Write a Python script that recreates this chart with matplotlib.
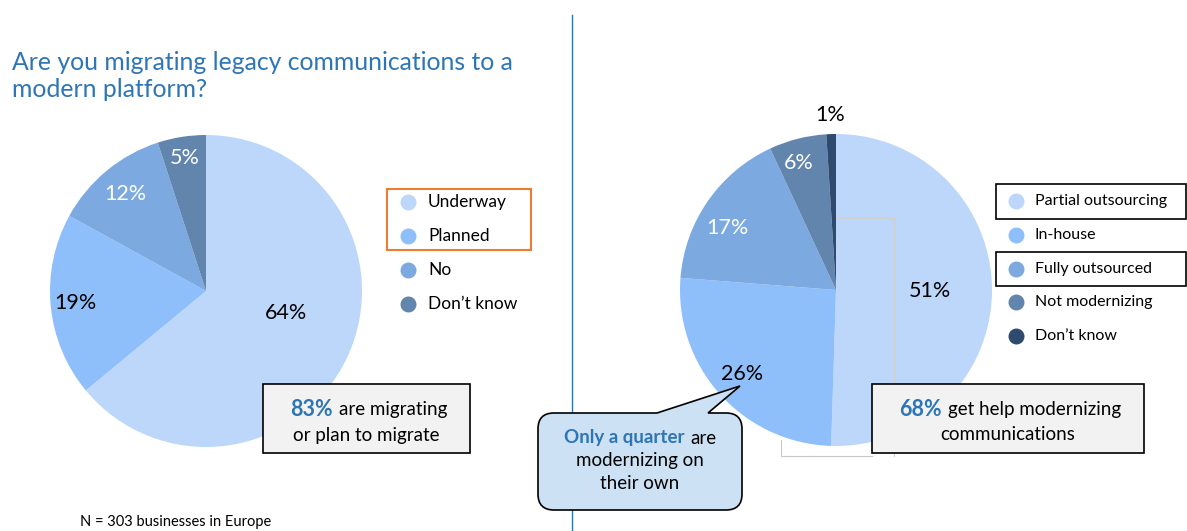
import numpy as np
import matplotlib.pyplot as plt
from matplotlib.path import Path
from matplotlib.patches import PathPatch, Rectangle

plt.rcParams['font.family'] = ['Lato', 'DejaVu Sans']

# ---------- Data ----------
mig_labels = ["Underway", "Planned", "No", "Don\u2019t know"]
mig_values = [64, 19, 12, 5]
mig_colors = ["#BCD7FA", "#8EBFFA", "#7BA9E0", "#6285AE"]

mod_labels = ["Partial outsourcing", "In-house", "Fully outsourced",
              "Not modernizing", "Don\u2019t know"]
mod_values = [51, 26, 17, 6, 1]
mod_colors = ["#BCD7FA", "#8EBFFA", "#7BA9E0", "#6285AE", "#2E4A6E"]

BLUE = "#2E75B6"
W, H = 1187, 531


def Y(y):
    # image rows -> axes coords (y up)
    return H - y


fig = plt.figure(figsize=(W / 100, H / 100), dpi=100)
ax = fig.add_axes([0, 0, 1, 1])


def draw_pie(values, colors, center, radius, fracs, nudges, txt_colors):
    wedges, _ = ax.pie(values, colors=colors, startangle=90, counterclock=False,
                       center=center, radius=radius, frame=True,
                       wedgeprops=dict(linewidth=0))
    for w, v, f, n, c in zip(wedges, values, fracs, nudges, txt_colors):
        ang = np.deg2rad((w.theta1 + w.theta2) / 2 + n)
        ax.text(center[0] + f * radius * np.cos(ang),
                center[1] + f * radius * np.sin(ang),
                f"{v}%", ha="center", va="center", fontsize=15.5, color=c)


draw_pie(mig_values, mig_colors, (206, Y(291)), 156,
         [0.53, 0.84, 0.81, 0.86], [9.6, 0, 0, 0],
         ["black", "black", "white", "white"])
draw_pie(mod_values, mod_colors, (836, Y(290)), 156,
         [0.6, 0.81, 0.8, 0.85, 1.12], [0, 0, 5, 2, 0],
         ["black", "black", "white", "white", "black"])

# faint leftover frame on the right pie
ax.plot([836, 894, 894], [Y(218), Y(218), Y(456)], color="#D0D0D0", lw=0.8, zorder=3)
ax.plot([781, 781, 872], [Y(440), Y(456), Y(456)], color="#C8C8C8", lw=0.8, zorder=3)

# ---------- Title & divider ----------
ax.text(12, Y(76), "Are you migrating legacy communications to a\nmodern platform?",
        ha="left", va="center", fontsize=17.8, color=BLUE, linespacing=1.25)
ax.plot([572, 572], [Y(15), Y(531)], color=BLUE, lw=1)

# ---------- Legends ----------
for i, (lab, col) in enumerate(zip(mig_labels, mig_colors)):
    yy = Y(202 + i * 34)
    ax.scatter([408], [yy], s=110, color=col, zorder=5)
    ax.text(428, yy, lab, ha="left", va="center", fontsize=12.5)
ax.add_patch(Rectangle((387, Y(250)), 144, 61, fill=False,
                       edgecolor="#ED7D31", lw=1.5, zorder=4))

for i, (lab, col) in enumerate(zip(mod_labels, mod_colors)):
    yy = Y(201 + i * 33.8)
    ax.scatter([1016], [yy], s=110, color=col, zorder=5)
    ax.text(1035, yy, lab, ha="left", va="center", fontsize=11.5)
for top, bot in [(184, 219), (252, 286)]:
    ax.add_patch(Rectangle((996, Y(bot)), 190, bot - top, fill=False,
                           edgecolor="black", lw=1.2, zorder=4))

# ---------- Callout boxes ----------
ax.add_patch(Rectangle((263, Y(453)), 207, 69, facecolor="#F2F2F2",
                       edgecolor="black", lw=1.2, zorder=6))
ax.text(333, Y(410), "83%", ha="right", va="center", fontsize=15.5,
        fontweight="bold", color=BLUE, zorder=7)
ax.text(339, Y(410), "are migrating", ha="left", va="center", fontsize=13.5, zorder=7)
ax.text(366, Y(436), "or plan to migrate", ha="center", va="center", fontsize=13.5, zorder=7)

ax.add_patch(Rectangle((872, Y(453)), 272, 69, facecolor="#F2F2F2",
                       edgecolor="black", lw=1.2, zorder=6))
ax.text(942, Y(409), "68%", ha="right", va="center", fontsize=15.5,
        fontweight="bold", color=BLUE, zorder=7)
ax.text(948, Y(409), "get help modernizing", ha="left", va="center", fontsize=13.5, zorder=7)
ax.text(1008, Y(435), "communications", ha="center", va="center", fontsize=13.5, zorder=7)

# ---------- Speech bubble ----------
x0, x1, t, b, r = 538, 742, 413, 510, 16
pts = [
    (x0 + r, t), (657, t), (740, 386), (708, t), (x1 - r, t),
    (x1, t), (x1, t + r),
    (x1, b - r),
    (x1, b), (x1 - r, b),
    (x0 + r, b),
    (x0, b), (x0, b - r),
    (x0, t + r),
    (x0, t), (x0 + r, t),
    (x0 + r, t),
]
codes = [Path.MOVETO, Path.LINETO, Path.LINETO, Path.LINETO, Path.LINETO,
         Path.CURVE3, Path.CURVE3,
         Path.LINETO,
         Path.CURVE3, Path.CURVE3,
         Path.LINETO,
         Path.CURVE3, Path.CURVE3,
         Path.LINETO,
         Path.CURVE3, Path.CURVE3,
         Path.CLOSEPOLY]
bubble = Path([(px, Y(py)) for px, py in pts], codes)
ax.add_patch(PathPatch(bubble, facecolor="#CDE1F4", edgecolor="black", lw=1.2, zorder=6))
ax.text(684, Y(438), "Only a quarter", ha="right", va="center", fontsize=13.5,
        fontweight="bold", color=BLUE, zorder=7)
ax.text(690, Y(438), "are", ha="left", va="center", fontsize=13.5, zorder=7)
ax.text(640, Y(452), "modernizing on\ntheir own", ha="center", va="top",
        fontsize=13.5, linespacing=1.4, zorder=7)

# ---------- Footnote ----------
ax.text(80, Y(522), "N = 303 businesses in Europe", ha="left", va="center", fontsize=10.5)

ax.set_xlim(0, W)
ax.set_ylim(0, H)
ax.set_aspect("equal")
ax.axis("off")

fig.savefig("out.png", dpi=100)
